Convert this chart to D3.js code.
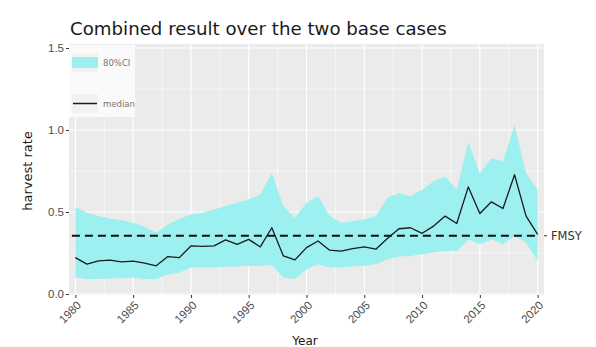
<!DOCTYPE html>
<html>
<head>
<meta charset="utf-8">
<script src="https://cdn.jsdelivr.net/npm/d3@7"></script>
<style>
  html, body { margin: 0; padding: 0; background: #fff; }
  svg { display: block; font-family: "DejaVu Sans", "Liberation Sans", Arial, sans-serif; }
</style>
</head>
<body>
<svg id="chart" width="596" height="347"></svg>
<script>
// Harvest rate, combined over the two base cases
const years = d3.range(1980, 2021);
const median = [0.222, 0.182, 0.202, 0.206, 0.196, 0.200, 0.188, 0.172, 0.228, 0.222,
                0.293, 0.290, 0.293, 0.330, 0.303, 0.333, 0.287, 0.404, 0.232, 0.208,
                0.283, 0.323, 0.267, 0.262, 0.277, 0.287, 0.273, 0.338, 0.398, 0.404,
                0.370, 0.414, 0.475, 0.430, 0.653, 0.491, 0.562, 0.521, 0.727, 0.475,
                0.364];
const upper = [0.530, 0.495, 0.475, 0.459, 0.450, 0.434, 0.410, 0.374, 0.424, 0.459,
               0.485, 0.495, 0.515, 0.535, 0.556, 0.576, 0.606, 0.738, 0.535, 0.465,
               0.556, 0.596, 0.475, 0.434, 0.444, 0.455, 0.475, 0.586, 0.616, 0.596,
               0.636, 0.687, 0.717, 0.636, 0.929, 0.737, 0.828, 0.808, 1.030, 0.737,
               0.636];
const lower = [0.101, 0.091, 0.091, 0.095, 0.097, 0.101, 0.091, 0.091, 0.121, 0.131,
               0.162, 0.162, 0.162, 0.168, 0.168, 0.172, 0.170, 0.175, 0.101, 0.091,
               0.150, 0.182, 0.162, 0.162, 0.168, 0.172, 0.182, 0.212, 0.228, 0.232,
               0.242, 0.253, 0.262, 0.262, 0.333, 0.303, 0.333, 0.303, 0.353, 0.313,
               0.202];
const fmsy = 0.355;
const xTicks = [1980, 1985, 1990, 1995, 2000, 2005, 2010, 2015, 2020];
const yTicks = [0.0, 0.5, 1.0, 1.5];
const legendLabels = ["80%CI", "median"];

const data = years.map((yr, i) => ({ year: yr, med: median[i], lo: lower[i], hi: upper[i] }));

const svg = d3.select("#chart");
const panel = { left: 69, right: 544, top: 44, bottom: 295 };

const x = d3.scaleLinear().domain([1979.45, 2020.55]).range([panel.left, panel.right]);
const y = d3.scaleLinear().domain([0, 1.5]).range([294, 48]);

// panel background
svg.append("rect")
  .attr("x", panel.left).attr("y", panel.top)
  .attr("width", panel.right - panel.left).attr("height", panel.bottom - panel.top)
  .attr("fill", "#EBEBEB");

// grid lines
const grid = svg.append("g");
const xMinor = d3.range(1982.5, 2020, 5);
const yMinor = [0.25, 0.75, 1.25];
grid.selectAll(".xminor").data(xMinor).join("line")
  .attr("x1", d => x(d)).attr("x2", d => x(d))
  .attr("y1", panel.top).attr("y2", panel.bottom)
  .attr("stroke", "#fff").attr("stroke-width", 0.55);
grid.selectAll(".yminor").data(yMinor).join("line")
  .attr("y1", d => y(d)).attr("y2", d => y(d))
  .attr("x1", panel.left).attr("x2", panel.right)
  .attr("stroke", "#fff").attr("stroke-width", 0.55);
grid.selectAll(".xmajor").data(xTicks).join("line")
  .attr("x1", d => x(d)).attr("x2", d => x(d))
  .attr("y1", panel.top).attr("y2", panel.bottom)
  .attr("stroke", "#fff").attr("stroke-width", 1.1);
grid.selectAll(".ymajor").data(yTicks).join("line")
  .attr("y1", d => y(d)).attr("y2", d => y(d))
  .attr("x1", panel.left).attr("x2", panel.right)
  .attr("stroke", "#fff").attr("stroke-width", 1.1);

// confidence band
const area = d3.area().x(d => x(d.year)).y0(d => y(d.lo)).y1(d => y(d.hi));
svg.append("path").datum(data)
  .attr("d", area)
  .attr("fill", "#9CF0EF");

// FMSY reference line
svg.append("line")
  .attr("x1", x(1979.7)).attr("x2", x(2020))
  .attr("y1", y(fmsy)).attr("y2", y(fmsy))
  .attr("stroke", "#111").attr("stroke-width", 2)
  .attr("stroke-dasharray", "8,5");

// median line
const line = d3.line().x(d => x(d.year)).y(d => y(d.med));
svg.append("path").datum(data)
  .attr("d", line)
  .attr("fill", "none")
  .attr("stroke", "#1a1a1a")
  .attr("stroke-width", 1.3)
  .attr("stroke-linejoin", "round");

// axes
const xAxis = svg.append("g").attr("transform", `translate(0,${panel.bottom})`)
  .call(d3.axisBottom(x).tickValues(xTicks).tickSize(3).tickFormat(d3.format("d")));
xAxis.select(".domain").remove();
xAxis.selectAll(".tick line").attr("stroke", "#333").attr("stroke-width", 1);
xAxis.selectAll(".tick text")
  .attr("fill", "#4D4D4D").attr("font-size", 11.5)
  .attr("text-anchor", "end")
  .attr("dy", null)
  .attr("y", 0)
  .attr("transform", "translate(6,11) rotate(-45)");

const yAxis = svg.append("g").attr("transform", `translate(${panel.left},0)`)
  .call(d3.axisLeft(y).tickValues(yTicks).tickSize(3).tickFormat(d3.format(".1f")));
yAxis.select(".domain").remove();
yAxis.selectAll(".tick line").attr("stroke", "#333").attr("stroke-width", 1);
yAxis.selectAll(".tick text").attr("fill", "#4D4D4D").attr("font-size", 11.5).attr("x", -5);

// FMSY label on the right
const fm = svg.append("g").attr("transform", `translate(${panel.right},${y(fmsy)})`);
fm.append("line").attr("x1", 0).attr("x2", 3).attr("stroke", "#333");
fm.append("text").attr("x", 7).attr("dy", "0.36em")
  .attr("font-size", 11.5).attr("fill", "#333").text("FMSY");

// titles
svg.append("text").attr("x", 70).attr("y", 35)
  .attr("font-size", 18.2).attr("fill", "#1a1a1a")
  .text("Combined result over the two base cases");
svg.append("text")
  .attr("transform", `translate(32,${171}) rotate(-90)`)
  .attr("text-anchor", "middle").attr("font-size", 13).attr("fill", "#1a1a1a")
  .text("harvest rate");
svg.append("text").attr("x", 305).attr("y", 345)
  .attr("text-anchor", "middle").attr("font-size", 12).attr("fill", "#1a1a1a")
  .text("Year");

// legend
const lg = svg.append("g").attr("transform", "translate(69,45)");
lg.append("rect").attr("width", 66).attr("height", 72).attr("fill", "#FAFAFA");
lg.append("rect").attr("x", 3).attr("y", 8).attr("width", 26).attr("height", 19).attr("fill", "#F2F2F2");
lg.append("rect").attr("x", 3).attr("y", 12).attr("width", 26).attr("height", 11).attr("fill", "#9CF0EF");
lg.append("rect").attr("x", 3).attr("y", 49).attr("width", 26).attr("height", 19).attr("fill", "#F2F2F2");
lg.append("line").attr("x1", 4).attr("x2", 28).attr("y1", 58.5).attr("y2", 58.5)
  .attr("stroke", "#1a1a1a").attr("stroke-width", 1.5);
lg.selectAll(".lt").data(legendLabels).join("text")
  .attr("x", 34).attr("y", (d, i) => i === 0 ? 20.5 : 61.5)
  .attr("font-size", 8.5).attr("fill", "#777")
  .text(d => d);
</script>
</body>
</html>
